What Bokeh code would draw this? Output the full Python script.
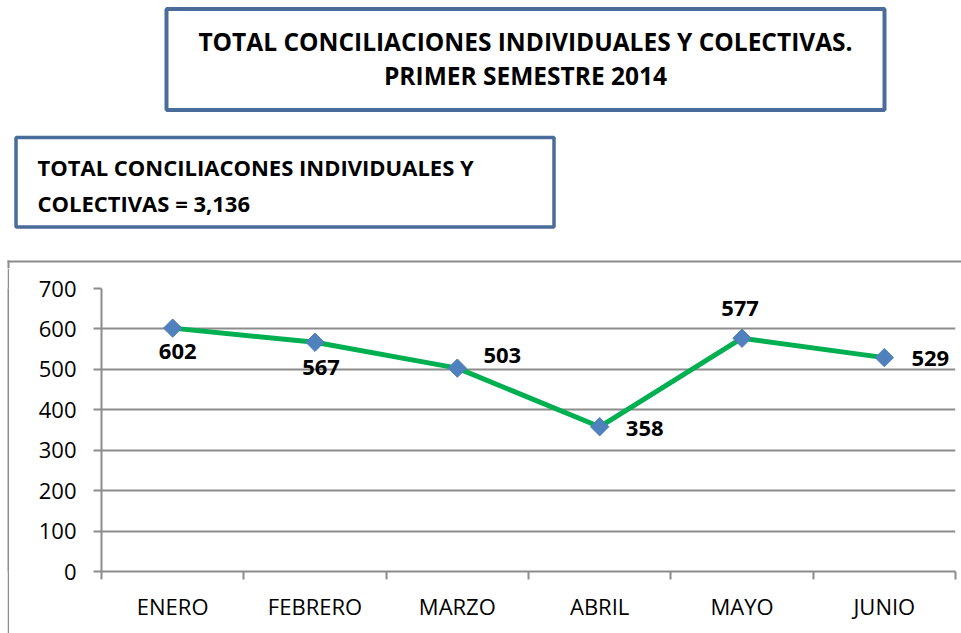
import math
from bokeh.plotting import figure
from bokeh.layouts import column, row
from bokeh.models import Range1d, LinearAxis, FixedTicker, ColumnDataSource, Spacer
from bokeh.core.properties import value
from bokeh.embed import file_html
from bokeh.resources import INLINE

# ---- data ----
months = ["ENERO", "FEBRERO", "MARZO", "ABRIL", "MAYO", "JUNIO"]
values = [602, 567, 503, 358, 577, 529]
y_ticks = [0, 100, 200, 300, 400, 500, 600, 700]
title_lines = ["TOTAL CONCILIACIONES INDIVIDUALES Y COLECTIVAS.",
               "PRIMER SEMESTRE 2014"]
summary_lines = ["TOTAL CONCILIACONES INDIVIDUALES Y",
                 "COLECTIVAS = 3,136"]

# ---- styles ----
FONT = "Open Sans"
GRAY = "#8c8c8c"
BLUE_BORDER = "#4A6C9B"
label_dx = [5, 6, 45, 45, -2, 46]
label_dy = [23, 25, -13, 2, -30, 1]

PAGE_W, PAGE_H = 961, 633
TOP_H = 268          # height of the header strip
PAD_W = 7            # white gap left of the chart-area frame
EDGE_W = 2           # chart-area frame left edge


def bare(width, height, xr, yr):
    f = figure(width=width, height=height, x_range=xr, y_range=yr,
               output_backend="svg", toolbar_location=None,
               x_axis_location=None, y_axis_location=None,
               min_border=0, min_border_left=0, min_border_right=0,
               min_border_top=0, min_border_bottom=0)
    f.outline_line_color = None
    f.grid.visible = False
    f.background_fill_color = "white"
    f.border_fill_color = "white"
    return f


# ---------------- header (title boxes) ----------------
head = bare(PAGE_W, TOP_H, Range1d(0, PAGE_W), Range1d(TOP_H, 0))
head.quad(left=166, right=884, top=8.5, bottom=109.5, fill_color=None,
          line_color=BLUE_BORDER, line_width=4)
head.quad(left=15.5, right=553.5, top=137, bottom=226.5, fill_color=None,
          line_color=BLUE_BORDER, line_width=3.5)
# chart-area frame: top edge and start of left edge
head.quad(left=PAD_W, right=PAGE_W, top=260, bottom=262, fill_color=GRAY, line_color=None)
head.quad(left=PAD_W, right=PAD_W + EDGE_W, top=260, bottom=TOP_H,
          fill_color=GRAY, line_color=None)

head.text(x=[525, 525], y=[41, 74.5], text=title_lines,
          text_align="center", text_baseline="alphabetic",
          text_font=value(FONT), text_font_style="bold",
          text_font_size="24.5px", text_color="black")
head.text(x=[37, 37], y=[166, 202], text=summary_lines,
          text_align="left", text_baseline="alphabetic",
          text_font=value(FONT), text_font_style="bold",
          text_font_size="22px", text_color="black")

# ---------------- left edge of the chart-area frame ----------------
CH = PAGE_H - TOP_H
pad = Spacer(width=PAD_W, height=CH)
edge = bare(EDGE_W, CH, Range1d(0, 1), Range1d(0, 1))
edge.background_fill_color = GRAY
edge.border_fill_color = GRAY

# ---------------- chart ----------------
n = len(months)
centers = [i + 0.5 for i in range(n)]      # category slot centres
edges = list(range(n + 1))                  # category slot boundaries

LEFT0 = PAD_W + EDGE_W
p = figure(width=PAGE_W - LEFT0, height=CH,
           x_range=Range1d(0, n), y_range=Range1d(0, 700),
           output_backend="svg", toolbar_location=None,
           x_axis_location=None, y_axis_location="left",
           min_border_left=101 - LEFT0, min_border_right=6,
           min_border_top=288 - TOP_H, min_border_bottom=PAGE_H - 571)
p.outline_line_color = None
p.background_fill_color = "white"
p.border_fill_color = "white"

p.yaxis.ticker = FixedTicker(ticks=y_ticks)
p.yaxis.axis_line_color = GRAY
p.yaxis.axis_line_width = 2
p.yaxis.major_tick_line_color = GRAY
p.yaxis.major_tick_line_width = 2
p.yaxis.major_tick_out = 8
p.yaxis.major_tick_in = 0
p.yaxis.minor_tick_line_color = None
p.yaxis.major_label_standoff = 17
p.yaxis.major_label_text_font = FONT
p.yaxis.major_label_text_font_size = "22px"
p.yaxis.major_label_text_color = "black"

p.ygrid.ticker = FixedTicker(ticks=y_ticks)
p.ygrid.grid_line_color = GRAY
p.ygrid.grid_line_width = 2
p.xgrid.grid_line_color = None

tick_axis = LinearAxis(ticker=FixedTicker(ticks=edges),
                       major_label_overrides={e: "" for e in edges},
                       major_label_text_font_size="1px",
                       major_label_standoff=0,
                       axis_line_color=GRAY, axis_line_width=2,
                       major_tick_line_color=GRAY, major_tick_line_width=2,
                       major_tick_out=8, major_tick_in=0,
                       minor_tick_line_color=None)
label_axis = LinearAxis(ticker=FixedTicker(ticks=centers),
                        major_label_overrides=dict(zip(centers, months)),
                        axis_line_color=None, major_tick_line_color=None,
                        minor_tick_line_color=None,
                        major_label_standoff=5,
                        major_label_text_font=FONT,
                        major_label_text_font_size="22px",
                        major_label_text_color="black")
p.add_layout(tick_axis, "below")
p.add_layout(label_axis, "below")

src = ColumnDataSource(dict(x=centers, y=values, month=months,
                            txt=[str(v) for v in values],
                            dx=label_dx, dy=label_dy))
p.line(x="x", y="y", source=src, line_color="#00B050", line_width=5)
p.scatter(x="x", y="y", source=src, marker="square", angle=math.pi / 4,
          size=13, fill_color="#4F81BD", line_color="#4F81BD", line_width=1)
p.text(x="x", y="y", text="txt", source=src, x_offset="dx", y_offset="dy",
       text_align="center", text_baseline="middle",
       text_font=value(FONT), text_font_style="bold",
       text_font_size="22px", text_color="black")

layout = column(head, row(pad, edge, p, spacing=0), spacing=0)
open("out.html", "w").write(file_html(layout, INLINE))
